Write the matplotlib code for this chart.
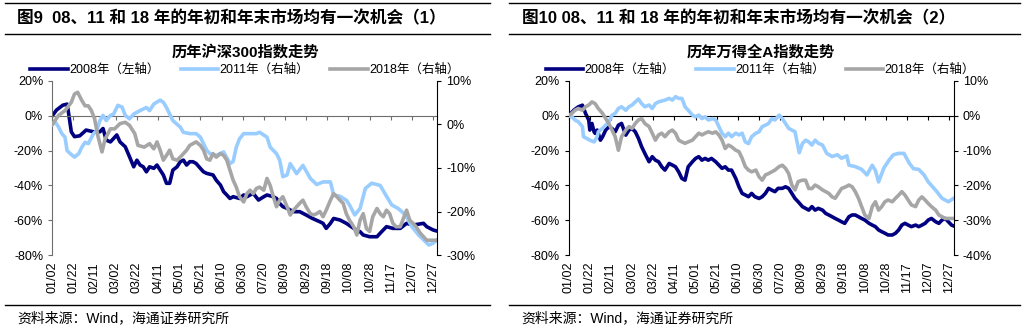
"""
Recreate: 图9 / 图10 — 08、11 和 18 年的年初和年末市场均有一次机会.
Two panels, each with a left axis (2008) and a right axis (2011, 2018).
Output: out.png (1025x331).
"""

import matplotlib.pyplot as plt
import matplotlib.ticker as mticker
from matplotlib.lines import Line2D

# ── style ────────────────────────────────────────────────────────────
plt.rcParams.update(
    {
        "font.family": ["Liberation Sans", "Noto Sans CJK SC"],
        "font.size": 9,
        "axes.unicode_minus": False,
    }
)

C_2008 = "#000080"
C_2011 = "#99CCFF"
C_2018 = "#A6A6A6"

# ── x axis: days since 01/02 ─────────────────────────────────────────
X_TICK_DAYS = list(range(0, 361, 20))
X_TICK_LABELS = [
    "01/02", "01/22", "02/11", "03/02", "03/22", "04/11", "05/01",
    "05/21", "06/10", "06/30", "07/20", "08/09", "08/29", "09/18",
    "10/08", "10/28", "11/17", "12/07", "12/27",
]

# ── panel 1: 沪深300 (%) ────────────────────────────────────────────
hs_2008_days = [0, 4, 10, 14, 15, 18, 21, 26, 32, 39, 45, 48, 51, 55, 58, 61, 64, 69, 73, 77,
                80, 83, 86, 89, 92, 96, 99, 102, 105, 108, 111, 114, 118, 121, 124, 127, 130, 133,
                136, 140, 143, 146, 152, 155, 159, 162, 165, 168, 171, 177, 181, 184, 187, 190,
                195, 200, 203, 209, 212, 215, 218, 222, 228, 234, 240, 246, 253, 256, 259, 263,
                266, 272, 278, 285, 291, 294, 300, 307, 310, 313, 316, 322, 329, 335, 341, 351,
                354, 360, 364]
hs_2008 = [0, 3.3, 6.1, 6.7, 3.3, -9.2, -12, -11.5, -8.2, -9.2, -9.2, -7.3, -14, -15, -13, -11,
           -15, -17.8, -23.5, -29.3, -25.5, -28.3, -29.3, -32.2, -29.3, -30.2, -28.3, -31.2, -34,
           -38.8, -38.8, -31.2, -29.3, -26.4, -25.5, -28.3, -26.4, -26.4, -27.4, -30.2, -32.2,
           -33.1, -34, -37, -39.8, -43.6, -45.5, -47.5, -46.5, -47.5, -45.5, -46.5, -45.5, -44.6,
           -48.4, -46.5, -45.5, -46.5, -47.5, -50.3, -52.2, -53.2, -55.1, -55.1, -57, -59, -60.9,
           -61.8, -64.7, -61.8, -59, -59.9, -61.8, -64.7, -66.6, -68.5, -69.5, -69.5, -67.5,
           -65.6, -63.7, -64.7, -64.7, -61.8, -62.8, -61.8, -63.7, -65.6, -66.3]

hs_2011_days = [0, 3, 6, 9, 12, 14, 17, 21, 25, 28, 31, 34, 39, 42, 45, 48, 51, 55, 58, 62, 66,
                69, 73, 77, 83, 89, 92, 96, 102, 105, 108, 111, 114, 121, 124, 130, 136, 140, 143,
                146, 149, 155, 162, 168, 171, 174, 177, 181, 187, 193, 196, 203, 206, 212, 215,
                218, 222, 225, 231, 237, 244, 250, 256, 263, 266, 272, 278, 281, 286, 291, 296,
                302, 310, 316, 321, 327, 334, 340, 346, 351, 356, 360, 364]
hs_2011 = [0, 0.5, -0.6, -2.1, -2.9, -6, -6.7, -7.5, -6.7, -5.2, -4.1, -4.4, -2.1, -1.4, 0.9,
           2.1, 0.9, 2.1, 2.4, 4.4, 4, 2.1, 1.3, 2.4, 3.2, 3.9, 3.2, 4.7, 5.6, 5.1, 3.9, 2.4, 0.9,
           -0.6, -1.8, -2.1, -2.1, -2.9, -4.4, -5.9, -6.7, -7.1, -6.3, -9, -8.5, -5.2, -3.3, -2.1,
           -2.1, -2.1, -1.8, -2.9, -5.2, -6.7, -8.2, -12, -11.6, -9, -11.3, -9.4, -12.4, -13.8,
           -13.2, -13.2, -16.2, -16.5, -17.4, -18.5, -20.8, -19.3, -14.7, -13.5, -14, -16.5,
           -18.5, -19.3, -20.8, -23.5, -25.3, -26.5, -27.7, -27.3, -26.5]

hs_2018_days = [0, 6, 12, 18, 21, 24, 28, 31, 34, 37, 40, 43, 47, 50, 55, 59, 64, 69, 73, 78,
                81, 87, 92, 96, 99, 102, 105, 108, 111, 114, 118, 121, 124, 127, 130, 133, 136,
                140, 143, 146, 149, 152, 155, 159, 162, 165, 168, 171, 174, 177, 181, 184, 187,
                190, 193, 196, 200, 203, 206, 209, 212, 215, 218, 222, 225, 228, 231, 234, 237,
                240, 244, 247, 250, 253, 256, 259, 263, 266, 269, 272, 275, 278, 281, 285, 288,
                291, 294, 297, 300, 303, 307, 310, 313, 316, 319, 322, 325, 329, 332, 335, 338,
                341, 344, 348, 351, 354, 357, 360, 364]
hs_2018 = [0, 2.1, 3.2, 5.1, 7, 7.4, 5.5, 4.3, 4.3, 3.2, 1.3, -2.5, -6.3, -3.3, -1, -1, 0.2, 0.5,
           -0.2, -2.1, -4.8, -5.2, -4.4, -5.6, -4, -5.9, -8.2, -7.1, -5.9, -7.9, -8.2, -7.5, -6.7,
           -5.9, -4.8, -4.4, -4, -4.8, -5.9, -7.9, -8.2, -6.7, -7.5, -6.7, -7.1, -8.2, -10.5,
           -12.8, -14.4, -16.6, -17.8, -15.9, -15.1, -15.9, -14.7, -14.4, -15.1, -12.4, -14,
           -16.6, -18.9, -17.4, -16.6, -18.9, -20.8, -19.7, -18.9, -18.1, -17.4, -18.9, -20.5,
           -20.8, -20.5, -20, -21.2, -19.7, -17.4, -15.9, -16.6, -17.4, -18.1, -20.5, -22, -23.5,
           -25.4, -22, -20.5, -23.9, -24.6, -21.2, -19.3, -20.5, -21.2, -19.7, -20.5, -22.7,
           -23.5, -23.5, -21.6, -19.7, -22, -22.7, -23.5, -25, -25.8, -26.6, -26.6, -26.6, -26.6]

# ── panel 2: 万得全A (%) ─────────────────────────────────────────────
wa_2008_days = [0, 5, 9, 13, 16, 19, 20, 22, 24, 25, 27, 30, 32, 35, 38, 41, 44, 47, 50, 54, 57,
                60, 63, 66, 69, 72, 76, 79, 82, 85, 88, 91, 95, 98, 101, 104, 107, 110, 113, 117,
                120, 123, 126, 129, 132, 135, 139, 142, 145, 148, 151, 154, 158, 161, 164, 167,
                170, 173, 176, 180, 183, 186, 189, 192, 195, 198, 202, 205, 208, 211, 214, 217,
                221, 224, 227, 230, 233, 236, 240, 243, 246, 249, 252, 255, 258, 261, 265, 268,
                271, 274, 277, 280, 284, 287, 290, 293, 296, 299, 302, 306, 309, 312, 315, 318,
                321, 324, 328, 331, 334, 337, 340, 343, 347, 350, 353, 356, 359, 362, 364]
wa_2008 = [0, 3.3, 5.1, 6.1, 1.3, -2.5, -8.2, -4.4, -9.2, -10.1, -8.2, -14, -12.1, -8.2, -6.3,
           -7.3, -9.2, -5.4, -4.4, -11.1, -8.2, -7.3, -9.2, -13, -17.8, -21.6, -26.4, -23.5,
           -25.5, -26.4, -29.3, -31.2, -27.4, -28.3, -29.3, -32.2, -36, -37, -29.3, -26.4, -24.5,
           -23.5, -25.5, -24.5, -25.5, -24.5, -26.4, -28.3, -30.2, -29.3, -31.2, -31.2, -36,
           -40.8, -44.6, -45.5, -46.5, -44.6, -46.5, -47.5, -46.5, -44.6, -41.7, -42.7, -43.6,
           -41.7, -41.7, -40.8, -41.7, -44.6, -47.5, -49.4, -52.2, -53.2, -54.2, -52.2, -54.2,
           -53.2, -54.2, -56.1, -57, -58, -59, -59.9, -60.9, -61.8, -58, -57, -57, -58, -59,
           -59.9, -61.8, -62.8, -63.7, -65.6, -66.6, -67.5, -68.5, -68.5, -67.5, -65.6, -62.8,
           -61.8, -62.8, -63.7, -62.8, -63.7, -62.8, -61.8, -59.9, -59, -60.9, -61.8, -59.9, -59,
           -60.9, -62.8, -63.3]

wa_2011_days = [0, 3, 6, 9, 13, 14, 17, 20, 24, 27, 28, 32, 35, 38, 41, 44, 47, 50, 54, 57, 60,
                63, 66, 69, 72, 76, 79, 82, 85, 91, 95, 98, 101, 104, 107, 109, 110, 113, 117,
                120, 123, 126, 129, 132, 136, 139, 142, 145, 148, 151, 154, 158, 161, 164, 167,
                170, 173, 177, 180, 183, 186, 189, 192, 195, 199, 202, 205, 208, 211, 214, 218,
                221, 224, 227, 230, 233, 236, 240, 244, 249, 254, 258, 263, 265, 271, 277, 282,
                287, 290, 293, 298, 303, 307, 312, 317, 322, 326, 331, 336, 340, 347, 353, 359,
                364]
wa_2011 = [0, -0.3, -1.2, -1.7, -3.1, -6, -6.5, -7, -7.5, -6, -4.6, -3.6, -2.7, -1.7, 0.2, 0.7,
           2.1, 2.6, 1.6, 2.6, 3.1, 4, 4.8, 3.5, 2.6, 3.1, 2.1, 3.5, 4, 4.5, 5, 4.5, 5.5, 5, 5,
           3.5, 2.6, 1.6, 0.2, -0.3, 0.2, -0.8, -0.3, -1.2, -0.8, -1.2, -3.1, -5, -6, -5, -6, -5,
           -5.5, -5, -7.5, -8, -6, -5, -4.6, -3.1, -2.7, -2.2, -0.8, -1.2, 0.2, -0.8, -2.2, -3.6,
           -4.1, -4.6, -10.6, -8, -7, -7.5, -8.4, -7, -7.9, -8.4, -10.8, -11.7, -11.2, -12.2,
           -11.5, -14.2, -14.6, -15.4, -17, -14.2, -15.7, -19, -15, -12.7, -11.2, -10.8, -10.8,
           -13.6, -15.2, -15.4, -17, -19, -21.4, -23.7, -24.7, -23.7]

wa_2018_days = [0, 3, 6, 9, 13, 16, 19, 22, 25, 28, 32, 35, 38, 41, 44, 47, 50, 54, 57, 60, 63,
                66, 69, 72, 76, 79, 82, 85, 88, 91, 95, 98, 101, 104, 107, 110, 113, 117, 120,
                123, 126, 129, 132, 136, 139, 142, 145, 148, 151, 154, 158, 161, 164, 167, 170,
                173, 177, 180, 183, 186, 189, 192, 195, 199, 202, 205, 208, 211, 214, 217, 221,
                224, 227, 230, 233, 236, 240, 243, 246, 249, 252, 255, 258, 262, 265, 268, 271,
                274, 277, 280, 284, 287, 290, 293, 296, 299, 302, 306, 309, 312, 315, 318, 321,
                324, 328, 331, 334, 337, 340, 343, 347, 350, 353, 356, 359, 364]
wa_2018 = [0, 0.7, 1.6, 2.1, 1.6, 2.6, 3.1, 4, 3.5, 2.1, 0.7, -0.8, -2.2, -4.1, -6, -9.9, -6,
           -4.1, -3.1, -3.6, -2.2, -1.2, -0.8, -2.2, -3.1, -5, -7, -5.5, -5, -6, -4.6, -4.1, -5,
           -7, -7.5, -7.9, -7.5, -7, -6, -5, -5.5, -5, -4.6, -5, -4.6, -5.5, -7, -9.4, -8.4,
           -8.9, -9.9, -10.3, -12.2, -14.6, -15.6, -16.1, -15.6, -17.5, -18.5, -17, -16.6,
           -16.1, -15.6, -14.6, -14.2, -15.1, -16.6, -19.9, -21.3, -18.9, -18.5, -18.5, -20.9,
           -20.9, -19.9, -20.4, -21.3, -21.8, -22.3, -23.3, -23.7, -22.3, -20.9, -20.4, -19.9,
           -20.4, -21.8, -23.7, -26.1, -28.5, -29.5, -26.1, -24.7, -27.1, -26.1, -24.7, -24.2,
           -24.7, -23.7, -22.8, -21.8, -22.8, -24.2, -25.6, -26.1, -24.2, -23.3, -24.2, -25.2,
           -26.1, -27.1, -28.5, -29, -29.5, -29.5, -29.5]

LEGEND_LABELS = ["2008年（左轴）", "2011年（右轴）", "2018年（右轴）"]

PANELS = [
    {
        "fig_title": "图9  08、11 和 18 年的年初和年末市场均有一次机会（1）",
        "chart_title": "历年沪深300指数走势",
        "s2008": (hs_2008_days, hs_2008),
        "s2011": (hs_2011_days, hs_2011),
        "s2018": (hs_2018_days, hs_2018),
        "left_ticks": [20, 0, -20, -40, -60, -80],
        "right_ticks": [10, 0, -10, -20, -30],
        "axis_color": "#6E6E6E",
        "x0": 0.0510,
        "lines": (0.005, 0.478),
        "title_x": 0.0166,
        "center": 0.239,
    },
    {
        "fig_title": "图10 08、11 和 18 年的年初和年末市场均有一次机会（2）",
        "chart_title": "历年万得全A指数走势",
        "s2008": (wa_2008_days, wa_2008),
        "s2011": (wa_2011_days, wa_2011),
        "s2018": (wa_2018_days, wa_2018),
        "left_ticks": [20, 0, -20, -40, -60, -80],
        "right_ticks": [10, 0, -10, -20, -30, -40],
        "axis_color": "#000000",
        "x0": 0.5548,
        "lines": (0.497, 0.995),
        "title_x": 0.509,
        "center": 0.742,
    },
]


def pct(v, _):
    return f"{v:.0f}%"


def draw_panel(fig, p):
    ax = fig.add_axes([p["x0"], 0.2296, 0.3756, 0.5257])
    ax2 = ax.twinx()

    l1, = ax.plot(*p["s2008"], color=C_2008, lw=2.6, solid_joinstyle="round")
    l2, = ax2.plot(*p["s2011"], color=C_2011, lw=2.6, solid_joinstyle="round")
    l3, = ax2.plot(*p["s2018"], color=C_2018, lw=2.6, solid_joinstyle="round")

    lt, rt = p["left_ticks"], p["right_ticks"]
    ax.set_ylim(min(lt), max(lt))
    ax2.set_ylim(min(rt), max(rt))
    ax.set_yticks(lt)
    ax2.set_yticks(rt)
    ax.yaxis.set_major_formatter(mticker.FuncFormatter(pct))
    ax2.yaxis.set_major_formatter(mticker.FuncFormatter(pct))
    ax.set_xlim(0, 364)

    # x axis line sits on the 0% level, labels stay at the bottom
    ax.spines["bottom"].set_position(("data", 0))
    ax.spines["bottom"].set_color(p["axis_color"])
    ax.set_xticks(X_TICK_DAYS)
    ax.tick_params(axis="x", direction="out", length=3, color=p["axis_color"],
                   labelbottom=False)
    sec = ax.secondary_xaxis("bottom")
    sec.set_xticks(X_TICK_DAYS, labels=X_TICK_LABELS, rotation=90)
    sec.tick_params(length=0, pad=5, labelsize=9)
    sec.spines["bottom"].set_visible(False)

    for a in (ax, ax2):
        a.spines["top"].set_visible(False)
        a.patch.set_visible(False)
    ax2.spines["bottom"].set_visible(False)
    ax2.spines["left"].set_visible(False)
    ax.spines["right"].set_visible(False)
    ax.spines["left"].set_color(p["axis_color"])
    ax2.spines["right"].set_color("black")
    ax.tick_params(axis="y", direction="out", length=3, color=p["axis_color"], labelsize=9)
    ax2.tick_params(axis="y", direction="out", length=3, color="black", labelsize=9)

    ax2.legend(
        [l1, l2, l3],
        LEGEND_LABELS,
        loc="center",
        bbox_to_anchor=(p["center"], 0.789),
        bbox_transform=fig.transFigure,
        ncol=3,
        frameon=False,
        fontsize=9,
        handlelength=3.0,
        handletextpad=0.1,
        columnspacing=1.7,
        borderpad=0,
    )

    # header / footer
    xa, xb = p["lines"]
    for y in (0.991, 0.897, 0.0785):
        fig.add_artist(Line2D([xa, xb], [y, y], transform=fig.transFigure,
                              color="black", lw=1.0))
    fig.text(p["title_x"], 0.946, p["fig_title"], ha="left", va="center",
             fontsize=12, fontweight="bold")
    fig.text(p["center"], 0.843, p["chart_title"], ha="center", va="center",
             fontsize=11, fontweight="bold")
    fig.text(p["title_x"], 0.039, "资料来源：Wind，海通证券研究所", ha="left",
             va="center", fontsize=10)


def main() -> None:
    fig = plt.figure(figsize=(10.25, 3.31), dpi=100)
    fig.patch.set_facecolor("white")
    for p in PANELS:
        draw_panel(fig, p)
    fig.savefig("out.png", dpi=100)
    plt.close(fig)


if __name__ == "__main__":
    main()
